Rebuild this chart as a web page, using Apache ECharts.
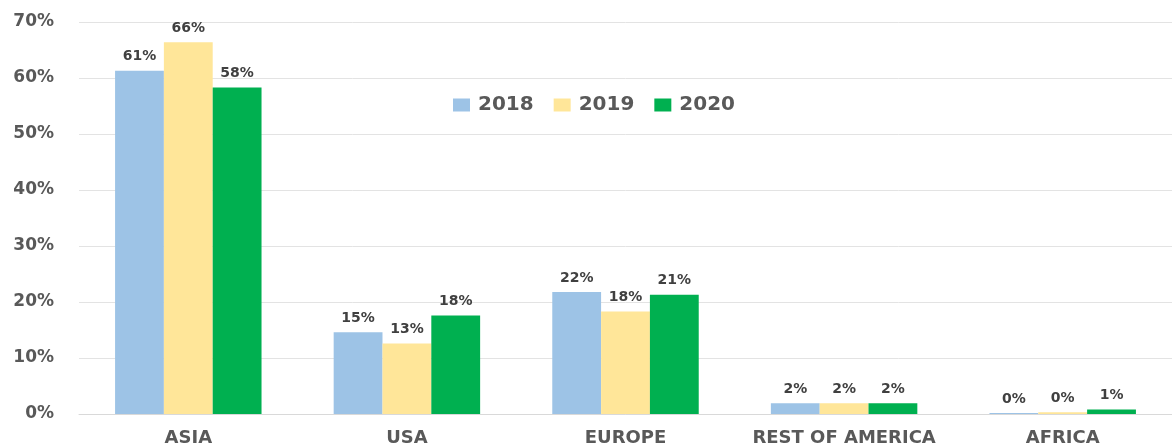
<!DOCTYPE html>
<html>
<head>
<meta charset="utf-8">
<script src="https://cdn.jsdelivr.net/npm/echarts@6/dist/echarts.min.js"></script>
<style>
html,body{margin:0;padding:0;background:#fff;}
#chart{width:1172px;height:448px;}
</style>
</head>
<body>
<div id="chart"></div>
<script>
var categories = ['ASIA', 'USA', 'EUROPE', 'REST OF AMERICA', 'AFRICA'];
var seriesNames = ['2018', '2019', '2020'];
var values2018 = [61.3, 14.6, 21.8, 1.9, 0.2];
var values2019 = [66.4, 12.6, 18.3, 1.9, 0.3];
var values2020 = [58.3, 17.6, 21.3, 1.9, 0.8];
var yTicks = [0, 10, 20, 30, 40, 50, 60, 70];
var colors = ['#9DC3E6', '#FFE699', '#00B050'];

var font = '"DejaVu Sans", "Open Sans", sans-serif';
function mk(name, data, color) {
  return {
    name: name, type: 'bar', data: data, barGap: '0%', barCategoryGap: '33%',
    itemStyle: { color: color },
    label: { show: true, position: 'top', distance: 7, fontFamily: font, fontWeight: 'bold',
      fontSize: 14, color: '#404040', formatter: function (p) { return Math.round(p.value) + '%'; } }
  };
}
var chart = echarts.init(document.getElementById('chart'));
chart.setOption({
  animation: false,
  textStyle: { fontFamily: font },
  grid: { left: 79, width: 1097, top: 22, bottom: 34, containLabel: false },
  legend: {
    data: seriesNames, left: 453, top: 95, padding: 0, itemWidth: 17, itemHeight: 13, itemGap: 20,
    icon: 'rect',
    textStyle: { fontFamily: font, fontWeight: 'bold', fontSize: 20, color: '#595959', padding: [0, 0, 0, 3] }
  },
  xAxis: {
    type: 'category', data: categories,
    axisLine: { lineStyle: { color: '#d9d9d9' } }, axisTick: { show: false },
    axisLabel: { interval: 0, fontFamily: font, fontWeight: 'bold', fontSize: 18, color: '#595959', margin: 15 }
  },
  yAxis: {
    type: 'value', min: yTicks[0], max: yTicks[yTicks.length - 1], interval: 10,
    axisLine: { show: false }, axisTick: { show: false },
    splitLine: { lineStyle: { color: '#e3e3e3', width: 1 } },
    axisLabel: { fontFamily: font, fontWeight: 'bold', fontSize: 17, color: '#595959', margin: 25,
      formatter: function (v) { return v + '%'; } }
  },
  series: [mk(seriesNames[0], values2018, colors[0]), mk(seriesNames[1], values2019, colors[1]), mk(seriesNames[2], values2020, colors[2])]
});
</script>
</body>
</html>
